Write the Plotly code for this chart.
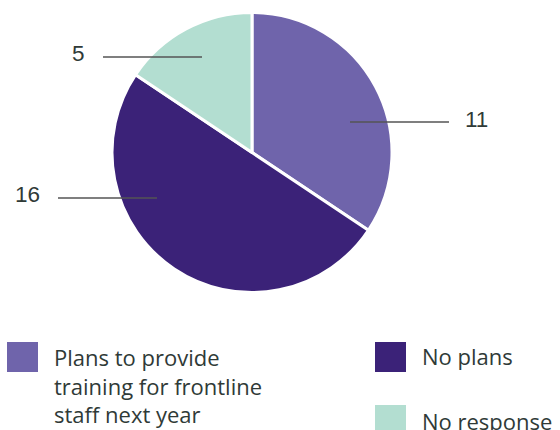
import plotly.graph_objects as go

# Survey responses
categories = [
    "Plans to provide training for frontline staff next year",
    "No plans",
    "No response",
]
legend_labels = [
    "Plans to provide<br>training for frontline<br>staff next year",
    "No plans",
    "No response",
]
counts = [11, 16, 5]
colors = ["#6F64AB", "#3B2278", "#B3DED1"]

W, H = 560, 430
TEXT_COLOR = "#2F3A37"
LINE_COLOR = "#555555"


def fx(px):
    return px / W


def fy(py):
    return 1 - py / H


# Pie placement (pixels): centre and radius
CX, CY, R = 252, 152.5, 140

fig = go.Figure(
    go.Pie(
        labels=categories,
        values=counts,
        marker=dict(colors=colors, line=dict(color="white", width=3)),
        sort=False,
        direction="clockwise",
        rotation=0,
        textinfo="none",
        hoverinfo="label+value",
        showlegend=False,
        domain=dict(x=[fx(CX - R), fx(CX + R)], y=[fy(CY + R), fy(CY - R)]),
    )
)

# Leader lines and value labels: (inner x, outer x, y, side)
callouts = [
    (350, 449, 122, "right"),
    (157, 58, 198, "left"),
    (202, 103, 57, "left"),
]
NUM_FONT = dict(family="Liberation Sans, Arial, sans-serif", size=22.5, color=TEXT_COLOR)
shapes = []
annotations = []
for (x_in, x_out, y, side), value in zip(callouts, counts):
    shapes.append(dict(
        type="line", xref="paper", yref="paper",
        x0=fx(x_in), x1=fx(x_out), y0=fy(y), y1=fy(y),
        line=dict(color=LINE_COLOR, width=1.5),
    ))
    if side == "right":
        ax, anchor = x_out + 14, "left"
    else:
        ax, anchor = x_out - 16, "right"
    annotations.append(dict(
        x=fx(ax), y=fy(y - 3), xref="paper", yref="paper",
        text=str(value), showarrow=False, xanchor=anchor, yanchor="middle",
        font=NUM_FONT,
    ))

# Legend drawn as swatches with text: (swatch left, swatch top, text block centre)
legend_slots = [
    (7, 342, 385),
    (375, 342, 355.5),
    (375, 405, 420.5),
]
SW, SH = 31, 30
LEG_FONT = dict(family="Open Sans, Noto Sans, sans-serif", size=22, color=TEXT_COLOR)
for (sx, sy, ty), label, color in zip(legend_slots, legend_labels, colors):
    shapes.append(dict(
        type="rect", xref="paper", yref="paper",
        x0=fx(sx), x1=fx(sx + SW), y0=fy(sy + SH), y1=fy(sy),
        fillcolor=color, line=dict(width=0),
    ))
    annotations.append(dict(
        x=fx(sx + 45), y=fy(ty), xref="paper", yref="paper",
        text=label, showarrow=False, xanchor="left", yanchor="middle", align="left",
        font=LEG_FONT,
    ))

fig.update_layout(
    width=W, height=H,
    margin=dict(l=0, r=0, t=0, b=0),
    paper_bgcolor="white",
    plot_bgcolor="white",
    shapes=shapes,
    annotations=annotations,
)

fig.write_html("out.html")
